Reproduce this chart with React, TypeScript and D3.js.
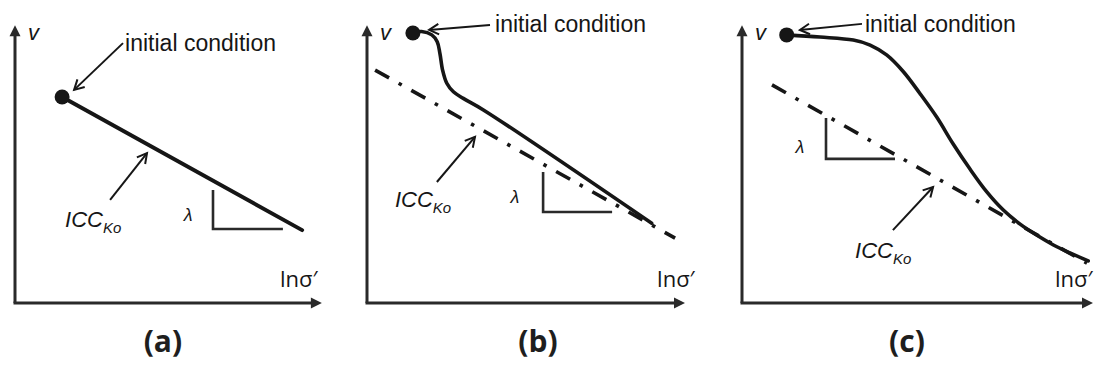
import React from 'react';
import * as d3 from 'd3';

type Pt = [number, number];

// text
const PANEL_LABELS = ['(a)', '(b)', '(c)'];
const V_LABEL = 'v';
const LN_LABEL = 'lnσ′';
const INIT_LABEL = 'initial condition';
const ICC_MAIN = 'ICC';
const ICC_SUB = 'Ko';
const SLOPE_LABEL = 'λ';

// state paths in (lnσ′, v) units
const PATH_A: Pt[] = [[1.57, 7.49], [9.57, 2.65]];
const PATH_B: Pt[] = [
  [1.53, 9.82], [1.82, 9.87], [2.16, 9.75], [2.34, 9.5], [2.43, 9.08], [2.52, 8.47],
  [2.66, 7.99], [2.88, 7.68], [3.21, 7.44], [3.88, 7.02], [9.49, 2.9],
];
const PATH_C: Pt[] = [
  [1.49, 9.75], [2.6, 9.67], [3.71, 9.56], [4.27, 9.38], [4.82, 9.02], [5.38, 8.41],
  [5.93, 7.62], [6.49, 6.76], [7.04, 5.78], [7.6, 4.87], [8.16, 4.04], [8.71, 3.38],
  [9.27, 2.87], [9.82, 2.47], [10.38, 2.11], [10.93, 1.82], [11.54, 1.53],
];

// ICC_Ko reference lines (dash-dot)
const ICC_B: Pt[] = [[0.27, 8.47], [10.27, 2.36]];
const ICC_C: Pt[] = [[1.0, 7.93], [11.5, 1.45]];

// slope triangles (top, corner, right)
const TRI_A: Pt[] = [[6.6, 4.11], [6.6, 2.69], [8.93, 2.69]];
const TRI_B: Pt[] = [[5.87, 4.76], [5.87, 3.31], [8.17, 3.31]];
const TRI_C: Pt[] = [[2.8, 6.73], [2.8, 5.24], [5.1, 5.24]];

const W = 1094;
const H = 369;
const Y0 = 303;
const INK = '#161616';
const AXIS_INK = '#2a2a2a';

const PANELS = [
  {
    ox: 15, xEnd: 10.23, path: PATH_A, icc: null as Pt[] | null, tri: TRI_A, pathW: 4,
    init: { text: [3.67, 9.16] as Pt, from: [3.6, 9.45] as Pt, to: [1.97, 7.75] as Pt },
    iccNote: { text: [1.67, 2.76] as Pt, from: [3.17, 3.75] as Pt, to: [4.4, 5.45] as Pt },
    lambda: [5.77, 3.2] as Pt, ln: 8.83, labelX: 4.93,
  },
  {
    ox: 367, xEnd: 10.6, path: PATH_B, icc: ICC_B, tri: TRI_B, pathW: 3.6,
    init: { text: [4.27, 9.85] as Pt, from: [4.1, 10.11] as Pt, to: [2.07, 9.93] as Pt },
    iccNote: { text: [0.93, 3.49] as Pt, from: [2.33, 4.4] as Pt, to: [3.6, 6.04] as Pt },
    lambda: [4.93, 3.85] as Pt, ln: 9.67, labelX: 5.7,
  },
  {
    ox: 742, xEnd: 11.7, path: PATH_C, icc: ICC_C, tri: TRI_C, pathW: 3.6,
    init: { text: [4.1, 9.85] as Pt, from: [4.0, 10.15] as Pt, to: [1.93, 9.93] as Pt },
    iccNote: { text: [3.77, 1.64] as Pt, from: [5.03, 2.65] as Pt, to: [6.37, 4.22] as Pt },
    lambda: [1.93, 5.67] as Pt, ln: 10.43, labelX: 5.5,
  },
];

function openHead(tip: Pt, from: Pt, len = 11, ang = 0.5) {
  const a = Math.atan2(from[1] - tip[1], from[0] - tip[0]);
  const p1 = [tip[0] + len * Math.cos(a + ang), tip[1] + len * Math.sin(a + ang)];
  const p2 = [tip[0] + len * Math.cos(a - ang), tip[1] + len * Math.sin(a - ang)];
  return `M${p1[0]},${p1[1]}L${tip[0]},${tip[1]}L${p2[0]},${p2[1]}`;
}

function filledHead(tip: Pt, dx: number, dy: number, len = 11, half = 5.5) {
  const bx = tip[0] - dx * len;
  const by = tip[1] - dy * len;
  return `M${tip[0]},${tip[1]}L${bx - dy * half},${by + dx * half}L${bx + dy * half},${by - dx * half}Z`;
}

function Panel({ cfg, label }: { cfg: typeof PANELS[number]; label: string }) {
  const x = d3.scaleLinear().domain([0, 10]).range([cfg.ox, cfg.ox + 300]);
  const y = d3.scaleLinear().domain([0, 10]).range([Y0, 28]);
  const straight = d3.line<Pt>().x(d => x(d[0])).y(d => y(d[1]));
  const smooth = d3.line<Pt>().x(d => x(d[0])).y(d => y(d[1])).curve(d3.curveCatmullRom.alpha(0.5));

  const origin: Pt = [x(0), y(0)];
  const yTip: Pt = [x(0), y(10.1)];
  const xTip: Pt = [x(cfg.xEnd), y(0)];
  const start = cfg.path[0];

  const px = (p: Pt): Pt => [x(p[0]), y(p[1])];
  const iFrom = px(cfg.init.from), iTo = px(cfg.init.to);
  const cFrom = px(cfg.iccNote.from), cTo = px(cfg.iccNote.to);

  const sans = 'Liberation Sans, Arial, Helvetica, sans-serif';

  return (
    <g>
      {/* axes */}
      <line x1={origin[0]} y1={origin[1]} x2={yTip[0]} y2={yTip[1] + 8} stroke={AXIS_INK} strokeWidth={3} />
      <line x1={origin[0] - 1.5} y1={origin[1]} x2={xTip[0] - 8} y2={xTip[1]} stroke={AXIS_INK} strokeWidth={3} />
      <path d={filledHead(yTip, 0, -1)} fill={AXIS_INK} />
      <path d={filledHead(xTip, 1, 0)} fill={AXIS_INK} />
      <text x={x(0) + 13} y={40} fontFamily={sans} fontStyle="italic" fontSize={22} fill={INK}>{V_LABEL}</text>
      <text x={x(cfg.ln)} y={287} fontFamily="Open Sans, sans-serif" fontSize={22} fill={INK}>{LN_LABEL}</text>

      {/* ICC_Ko dash-dot */}
      {cfg.icc && (
        <path d={straight(cfg.icc) ?? ''} fill="none" stroke={INK} strokeWidth={3.6}
          strokeDasharray="16 11 3.5 11" />
      )}

      {/* slope triangle */}
      <path d={straight(cfg.tri) ?? ''} fill="none" stroke={AXIS_INK} strokeWidth={2.6} />
      <text x={x(cfg.lambda[0])} y={y(cfg.lambda[1]) + 6} textAnchor="middle" fontFamily={sans}
        fontStyle="italic" fontSize={18} fill={INK}>{SLOPE_LABEL}</text>

      {/* state path */}
      <path d={(cfg.path.length > 2 ? smooth(cfg.path) : straight(cfg.path)) ?? ''} fill="none"
        stroke={INK} strokeWidth={cfg.pathW} strokeLinecap="round" />
      <circle cx={x(start[0])} cy={y(start[1])} r={7.5} fill={INK} />

      {/* initial condition note */}
      <line x1={iFrom[0]} y1={iFrom[1]} x2={iTo[0]} y2={iTo[1]} stroke={INK} strokeWidth={2} />
      <path d={openHead(iTo, iFrom)} fill="none" stroke={INK} strokeWidth={2} />
      <text x={x(cfg.init.text[0])} y={y(cfg.init.text[1])} fontFamily={sans} fontSize={23} fill={INK}>
        {INIT_LABEL}
      </text>

      {/* ICC_Ko note */}
      <line x1={cFrom[0]} y1={cFrom[1]} x2={cTo[0]} y2={cTo[1]} stroke={INK} strokeWidth={2} />
      <path d={openHead(cTo, cFrom)} fill="none" stroke={INK} strokeWidth={2} />
      <text x={x(cfg.iccNote.text[0])} y={y(cfg.iccNote.text[1])} fontFamily={sans} fontStyle="italic"
        fontSize={22} fill={INK}>
        {ICC_MAIN}
        <tspan fontSize={15} dy={6}>{ICC_SUB}</tspan>
      </text>

      {/* panel label */}
      <text x={x(cfg.labelX)} y={352} textAnchor="middle" fontFamily="Open Sans, sans-serif"
        fontWeight={700} fontSize={30} fill="#1e1e1e">{label}</text>
    </g>
  );
}

export default function App() {
  return (
    <svg width={W} height={H} viewBox={`0 0 ${W} ${H}`}
      style={{ position: 'absolute', left: 0, top: 0, background: '#fff' }}>
      {PANELS.map((p, i) => (
        <Panel key={PANEL_LABELS[i]} cfg={p} label={PANEL_LABELS[i]} />
      ))}
    </svg>
  );
}
